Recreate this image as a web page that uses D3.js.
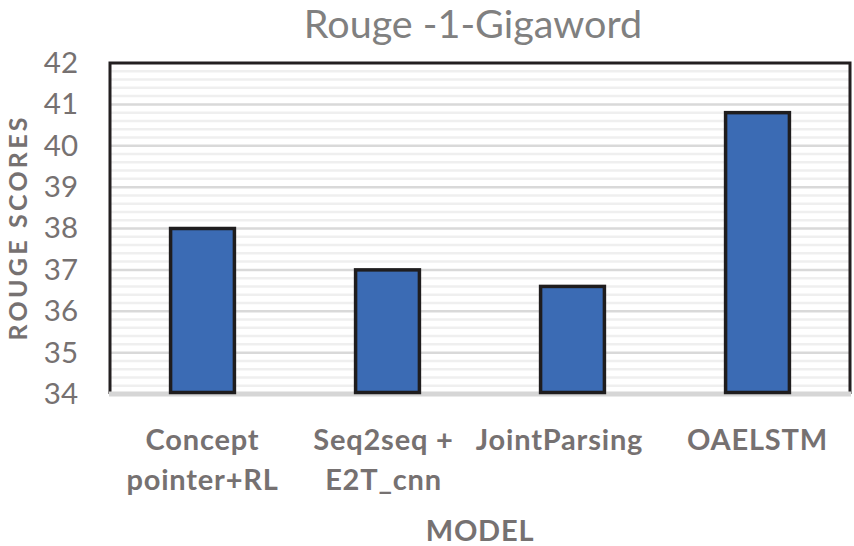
<!DOCTYPE html>
<html><head><meta charset="utf-8">
<script src="https://cdn.jsdelivr.net/npm/d3@7"></script>
<style>body{margin:0;background:#fff}svg{display:block}text{font-family:Lato,"Open Sans",sans-serif}</style>
</head><body><svg id="c" width="854" height="546"></svg>
<script>
const categories = [["Concept","pointer+RL"],["Seq2seq +","E2T_cnn"],["JointParsing"],["OAELSTM"]];
const values = [38.0, 37.0, 36.6, 40.8];
const yTicks = [34,35,36,37,38,39,40,41,42];
const title = "Rouge -1-Gigaword";
const yTitle = "ROUGE SCORES";
const xTitle = "MODEL";

const svg = d3.select("#c");
const L=110, R=850, T=63, B=394;
const x = d3.scaleBand().domain(d3.range(values.length)).range([L,R]).paddingInner(0.655).paddingOuter(0.3275);
const y = d3.scaleLinear().domain([34,42]).range([B,T]);
const grey="#767171";

// minor gridlines
const minor = d3.range(34.2, 42, 0.2).filter(v=>Math.abs(v-Math.round(v))>1e-6);
svg.append("g").selectAll("line").data(minor).join("line")
  .attr("x1",L).attr("x2",R).attr("y1",d=>y(d)).attr("y2",d=>y(d))
  .attr("stroke","#efefef").attr("stroke-width",2.5);
svg.append("g").selectAll("line").data(yTicks.slice(1,-1)).join("line")
  .attr("x1",L).attr("x2",R).attr("y1",d=>y(d)).attr("y2",d=>y(d))
  .attr("stroke","#d9d9d9").attr("stroke-width",2.5);

// frame
svg.append("path").attr("d",`M${L},${B} V${T} H${R} V${B}`).attr("fill","none").attr("stroke","#231f20").attr("stroke-width",3);
svg.append("line").attr("x1",L-1).attr("x2",R+1).attr("y1",B).attr("y2",B).attr("stroke","#d6d6d6").attr("stroke-width",5);

// bars
svg.append("g").selectAll("rect").data(values).join("rect")
  .attr("x",(d,i)=>x(i)).attr("width",x.bandwidth())
  .attr("y",d=>y(d)).attr("height",d=>y(34)-y(d)-1.5)
  .attr("fill","#3b6bb4").attr("stroke","#1f1d1e").attr("stroke-width",3.5);

// y axis
const ya = svg.append("g").attr("transform",`translate(${L},0)`)
  .call(d3.axisLeft(y).tickValues(yTicks).tickSize(0).tickPadding(32).tickFormat(d3.format("d")));
ya.select(".domain").remove();
ya.selectAll("text").attr("font-size",29.5).attr("fill",grey).attr("font-family","Lato,sans-serif");

// x labels
const xl = svg.append("g");
const shifts=[0,-4,-13,0];
categories.forEach((lines,i)=>{
  const cx = x(i)+x.bandwidth()/2 + shifts[i];
  lines.forEach((s,j)=>{
    xl.append("text").attr("x",cx).attr("y",450+j*40).attr("text-anchor","middle")
      .attr("font-size",29).attr("letter-spacing",0.8).attr("font-weight","bold").attr("fill",grey).text(s);
  });
});

svg.append("text").attr("x",473).attr("y",38).attr("text-anchor","middle").attr("font-size",39.5).attr("fill","#808080").text(title);
svg.append("text").attr("transform","translate(27,229) rotate(-90)").attr("text-anchor","middle").attr("font-size",25).attr("font-weight","bold").attr("fill",grey)
  .attr("textLength",223).attr("lengthAdjust","spacing").text(yTitle);
svg.append("text").attr("x",480).attr("y",541).attr("text-anchor","middle").attr("font-size",29).attr("letter-spacing",0.8).attr("font-weight","bold").attr("fill",grey).text(xTitle);
</script></body></html>
